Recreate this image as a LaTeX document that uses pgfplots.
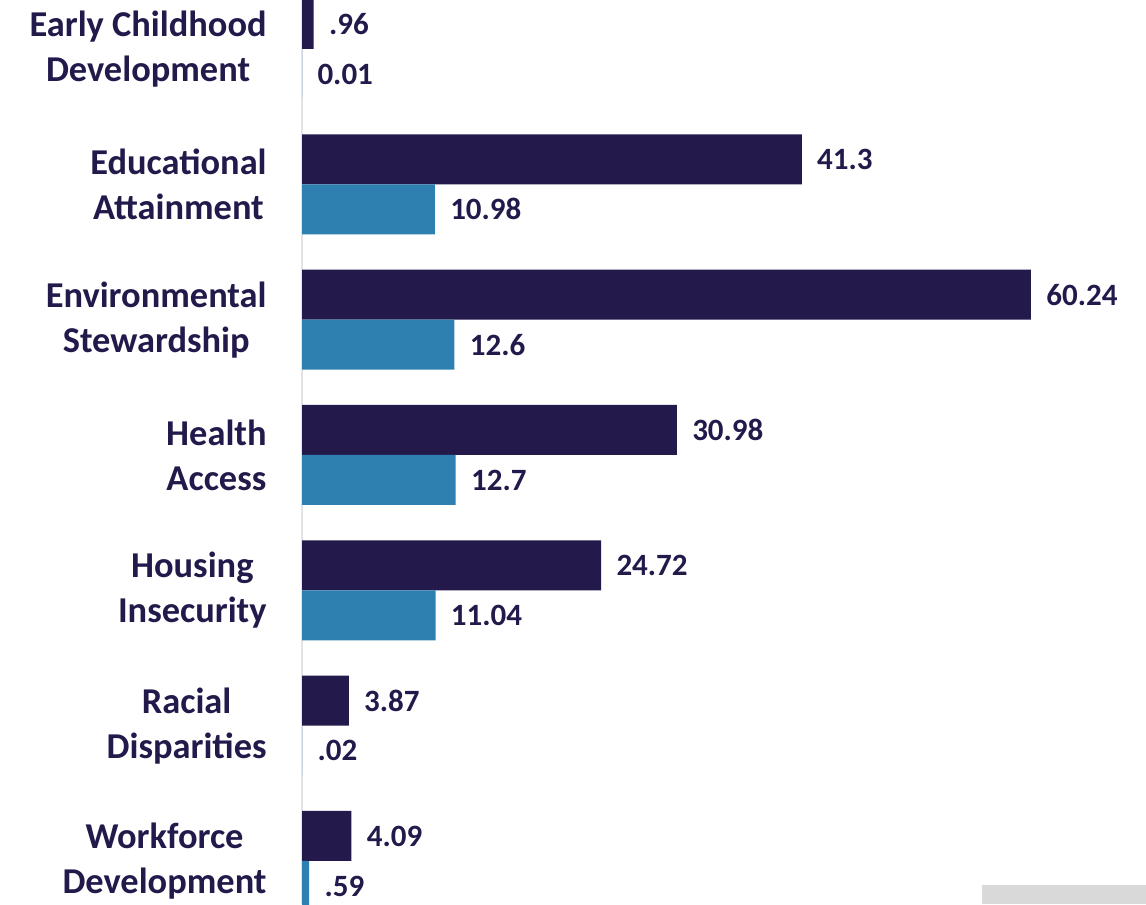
\documentclass[border=0pt]{standalone}
\usepackage{fontspec}
\setmainfont{Carlito}
\usepackage{pgfplots}
\pgfplotsset{compat=1.18}
\definecolor{navy}{HTML}{231A4B}
\definecolor{steel}{HTML}{2E80B1}
\definecolor{linegray}{HTML}{E4E4E4}
\definecolor{boxgray}{HTML}{D9D9D9}
\begin{document}
\begin{tikzpicture}
\begin{axis}[
    scale only axis,
    width=422pt, height=452pt,
    xbar,
    bar width=0.3695,
    xmin=0, xmax=69.75,
    ymin=-0.362, ymax=6.318,
    y dir=reverse,
    hide x axis,
    axis y line*=left,
    y axis line style={draw=linegray, line width=0.8pt},
    ytick={0,...,6},
    yticklabels={{Early Childhood\\Development},{Educational\\Attainment},
      {Environmental\\Stewardship},{Health\\Access},{Housing\\Insecurity},
      {Racial\\Disparities},{Workforce\\Development}},
    major tick length=0pt,
    yticklabel style={align=center, anchor=east, inner sep=0pt, xshift=-17.5pt,
      text=navy, font=\fontsize{18.2}{22.5}\selectfont\bfseries},
    nodes near coords,
    point meta=explicit symbolic,
    nodes near coords style={anchor=west, inner sep=0pt, xshift=7.5pt,
      text=navy, font=\fontsize{15.5}{17}\selectfont\bfseries},
    every axis plot/.append style={draw=none},
]
% light grey strip in the lower right corner
\fill[boxgray] (rel axis cs:0.8057,0) rectangle (rel axis cs:1,0.021);
\addplot[fill=navy, bar shift=-0.1848] coordinates {
  (0.96,0) [.96]
  (41.3,1) [41.3]
  (60.24,2) [60.24]
  (30.98,3) [30.98]
  (24.72,4) [24.72]
  (3.87,5) [3.87]
  (4.09,6) [4.09]
};
\addplot[fill=steel, bar shift=0.1848] coordinates {
  (0.01,0) [0.01]
  (10.98,1) [10.98]
  (12.6,2) [12.6]
  (12.7,3) [12.7]
  (11.04,4) [11.04]
  (0.02,5) [.02]
  (0.59,6) [.59]
};
\end{axis}
\pgfresetboundingbox
\path ([xshift=-151pt]current axis.south west) rectangle (current axis.north east);
\end{tikzpicture}
\end{document}
